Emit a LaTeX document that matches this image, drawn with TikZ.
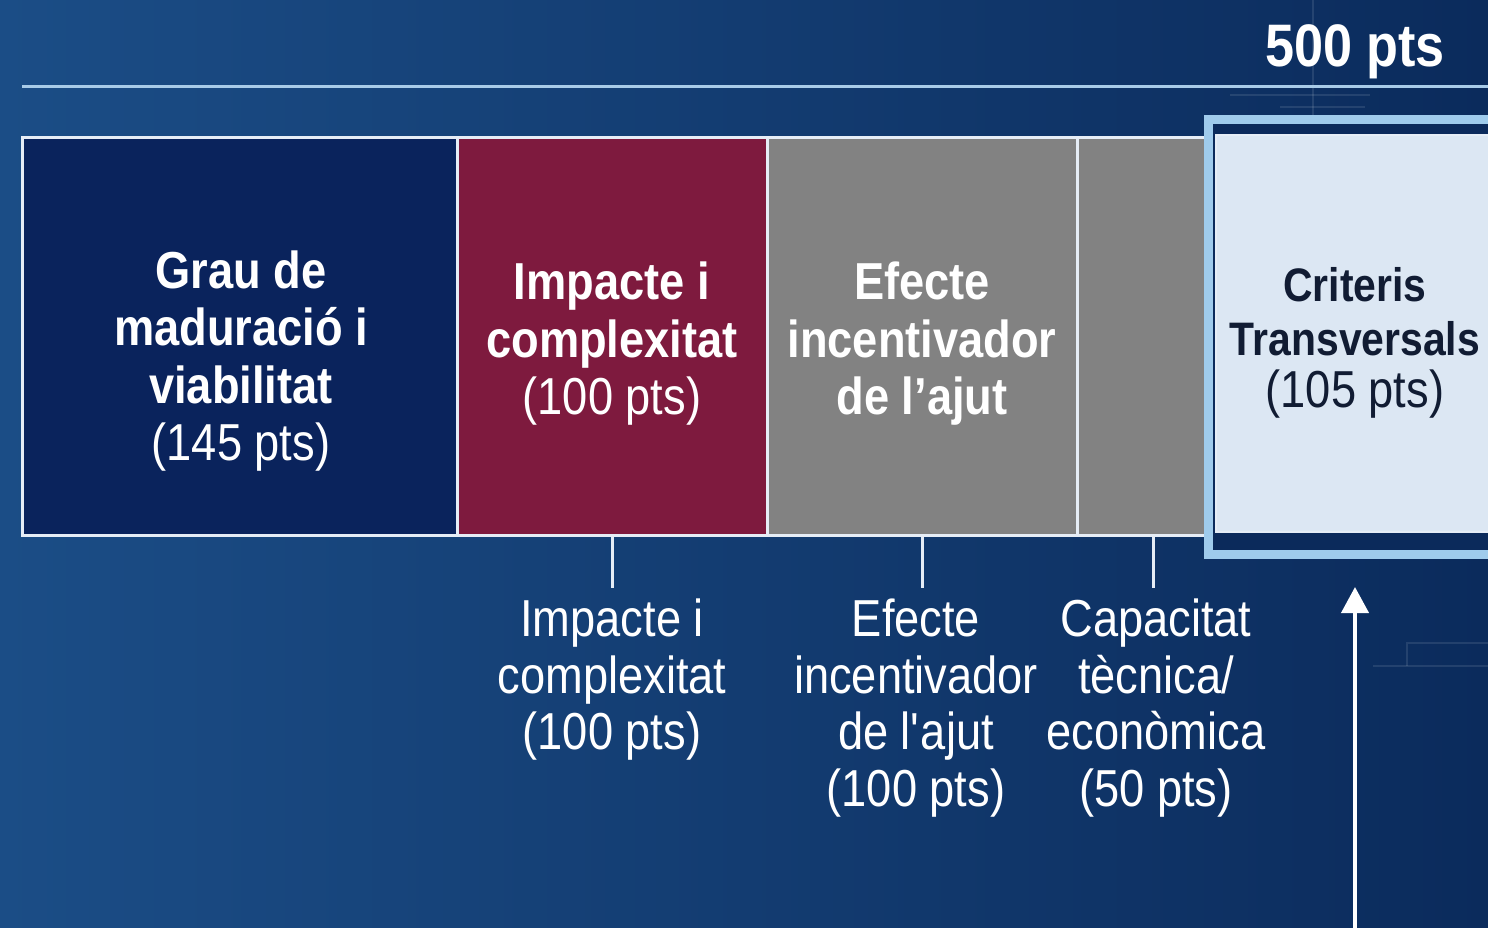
\documentclass[tikz,border=0pt]{standalone}
\usepackage{fontspec}
\setmainfont{Liberation Sans}[FakeStretch=0.87]
\usetikzlibrary{arrows.meta}
\definecolor{bgL}{HTML}{1B4D86}
\definecolor{bgR}{HTML}{0B2B5C}
\definecolor{innerbg}{HTML}{0B2A5B}
\definecolor{navybox}{HTML}{0A235C}
\definecolor{maroonbox}{HTML}{7E1A3E}
\definecolor{greybox}{HTML}{828282}
\definecolor{palebox}{HTML}{DCE7F3}
\definecolor{frameblue}{HTML}{9FCBEC}
\definecolor{rulecol}{HTML}{A8CBE8}
\definecolor{darktext}{HTML}{111C33}
\definecolor{edgecol}{HTML}{E6EDF6}
\begin{document}
\begin{tikzpicture}[x=1pt,y=-1pt,
  box/.style={draw=edgecol, line width=3pt, inner sep=0pt, outer sep=0pt, minimum height=397pt},
  boldtxt/.style={text=white, align=center, inner sep=0pt, font=\bfseries\fontsize{52}{57.5}\selectfont},
  regtxt/.style={text=white, align=center, inner sep=0pt, font=\fontsize{52}{56.5}\selectfont},
  ticklink/.style={draw=edgecol, line width=3pt},
  faint/.style={draw=white, opacity=0.1, line width=1.2pt}
]
\useasboundingbox (0,0) rectangle (1488,928);
\shade[left color=bgL, right color=bgR] (0,0) rectangle (1488,928);

% faint background decoration
\draw[faint] (1313,0) -- (1313,116);
\draw[faint] (1230,95) -- (1370,95);
\draw[faint] (1280,107) -- (1365,107);
\draw[faint] (1373,666) -- (1488,666);
\draw[faint] (1407,666) -- (1407,643) -- (1488,643);

% top rule and total
\draw[rulecol, line width=3pt] (22,87) -- (1488,87);
\node[text=white, inner sep=0pt, anchor=base, font=\bfseries\fontsize{60}{66}\selectfont] (total) at (1355,67) {500 pts};

% boxes
\node[box, fill=navybox, minimum width=435pt] (b1) at (239.5,336.5) {};
\node[box, fill=maroonbox, minimum width=310pt] (b2) at (612,336.5) {};
\node[box, fill=greybox, minimum width=310pt] (b3) at (922,336.5) {};
\node[box, fill=greybox, minimum width=152pt] (b4) at (1153,336.5) {};

% highlighted frame and transversal box
\draw[frameblue, line width=9pt, fill=innerbg] (1208,120) rectangle (1530,554);
\node[box, draw=edgecol, line width=2pt, fill=palebox, minimum width=314pt] (b5) at (1373,333.5) {};

% box texts
\node[boldtxt] (t1) at (241,361) {Grau de\\maduració i\\viabilitat\\{\mdseries (145 pts)}};
\node[boldtxt] (t2) at (612,344) {Impacte i\\complexitat\\{\mdseries (100 pts)}};
\node[boldtxt] (t3) at (922,344) {Efecte\\incentivador\\de l’ajut};
\node[boldtxt, text=darktext, font=\bfseries\fontsize{47}{54}\selectfont] (t5) at (1355,311.5) {Criteris\\Transversals};
\node[text=darktext, inner sep=0pt, anchor=base, font=\fontsize{52}{56.5}\selectfont] (t5b) at (1355,407) {(105 pts)};

% links from boxes to detail labels
\draw[ticklink] (b2.south) -- ++(0,53);
\draw[ticklink] (b3.south) -- ++(0,53);
\draw[ticklink] (b4.south) -- ++(0,53);

% detail labels
\node[regtxt] (l2) at (612,680) {Impacte i\\complexitat\\(100 pts)};
\node[regtxt] (l3) at (916,708) {Efecte\\incentivador\\de l\textquotesingle ajut\\(100 pts)};
\node[regtxt] (l4) at (1156,708) {Capacitat\\tècnica/\\econòmica\\(50 pts)};

% arrow up to the transversal criteria
\coordinate (arrS) at (1355,928);
\coordinate (arrE) at (1355,587);
\draw[white, line width=4pt, -{Triangle[width=27pt,length=26pt]}] (arrS) -- (arrE);
\end{tikzpicture}
\end{document}
